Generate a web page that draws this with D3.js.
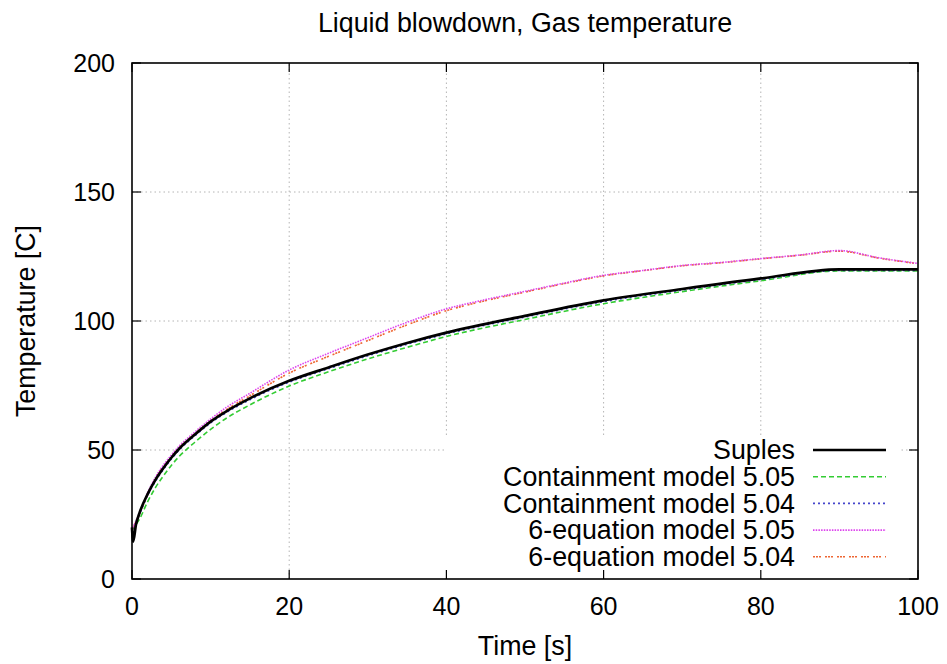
<!DOCTYPE html>
<html>
<head>
<meta charset="utf-8">
<script src="https://cdn.jsdelivr.net/npm/d3@7"></script>
<style>
  html, body { margin: 0; padding: 0; background: #fff; }
  svg { display: block; font-family: "Liberation Sans", Arial, sans-serif; }
</style>
</head>
<body>
<svg id="chart" width="947" height="664"></svg>
<script>
const xTicks = [0, 20, 40, 60, 80, 100];
const yTicks = [0, 50, 100, 150, 200];

const suplesT = [0, 0.15, 0.5, 1, 2, 3, 4, 5, 6, 8, 10, 12, 15, 20, 25, 30, 35, 40, 50, 60, 70, 80, 90, 100];
const suplesV = [20, 14.5, 21, 26, 33, 38.5, 43, 47, 50.5, 56, 61, 65, 70, 76.8, 82, 87, 91.5, 95.5, 102, 108, 112.4, 116.5, 120, 120];

const cont505T = [0, 1, 2, 3, 4, 5, 6, 8, 10, 12, 15, 20, 25, 30, 35, 40, 50, 60, 70, 80, 90, 100];
const cont505V = [19, 23.5, 30, 35.5, 40, 44, 47.5, 53, 58, 62.3, 67.5, 74.8, 80.3, 85.3, 89.8, 94, 100.6, 106.7, 111.4, 115.6, 119.4, 119.4];

const cont504T = [0, 1, 2, 3, 4, 5, 6, 8, 10, 12, 15, 20, 25, 30, 35, 40, 50, 60, 70, 80, 90, 100];
const cont504V = [19, 25.5, 32.5, 38, 42.5, 46.5, 50, 55.5, 60.5, 64.5, 69.5, 76.3, 81.5, 86.5, 91, 95, 101.5, 107.5, 112, 116.1, 119.6, 119.6];

const eq505T = [0, 1, 2, 3, 5, 6, 8, 10, 12, 15, 20, 25, 30, 35, 40, 45, 50, 55, 60, 65, 70, 75, 80, 85, 90, 95, 100];
const eq505V = [19, 26, 33.5, 39.5, 48, 51.5, 57, 62, 66.5, 72, 81, 87.5, 93.5, 99.5, 104.7, 108.3, 111.5, 114.7, 117.7, 119.6, 121.5, 122.7, 124.2, 125.6, 127.3, 124.5, 122.3];

const eq504T = [0, 1, 2, 3, 5, 6, 8, 10, 12, 15, 20, 25, 30, 35, 40, 45, 50, 55, 60, 65, 70, 75, 80, 85, 90, 95, 100];
const eq504V = [19, 25.5, 33, 39, 47.3, 50.8, 56.3, 61.3, 65.6, 71, 79.8, 86.3, 92.4, 98.5, 104, 107.9, 111.2, 114.5, 117.5, 119.5, 121.4, 122.6, 124.1, 125.5, 127.1, 124.4, 122.2];

const seriesNames = ["Suples", "Containment model 5.05", "Containment model 5.04", "6-equation model 5.05", "6-equation model 5.04"];

const series = [
  { name: seriesNames[0], t: suplesT, v: suplesV, color: "#000000", width: 2.7, dash: null },
  { name: seriesNames[1], t: cont505T, v: cont505V, color: "#33cc33", width: 1.6, dash: "5,3" },
  { name: seriesNames[2], t: cont504T, v: cont504V, color: "#4444cc", width: 1.6, dash: "2,3" },
  { name: seriesNames[3], t: eq505T, v: eq505V, color: "#dd44ee", width: 1.6, dash: "1.5,1.2" },
  { name: seriesNames[4], t: eq504T, v: eq504V, color: "#ee6633", width: 1.6, dash: "2,1,2,1,2,4" },
];

const margin = { left: 132, right: 29, top: 63, bottom: 85 };
const width = 947, height = 664;
const svg = d3.select("#chart");

const x = d3.scaleLinear().domain([0, 100]).range([margin.left, width - margin.right]);
const y = d3.scaleLinear().domain([0, 200]).range([height - margin.bottom, margin.top]);

// grid
const grid = svg.append("g").attr("stroke", "#b4b4b4").attr("stroke-width", 1).attr("stroke-dasharray", "1.5,3");
xTicks.slice(1, -1).forEach((t) => {
  grid.append("line").attr("x1", x(t)).attr("x2", x(t)).attr("y1", y(0)).attr("y2", y(200));
});
yTicks.slice(1, -1).forEach((v) => {
  grid.append("line").attr("x1", x(0)).attr("x2", x(100)).attr("y1", y(v)).attr("y2", y(v));
});

// curves
const line = d3.line().x((d) => x(d[0])).y((d) => y(d[1])).curve(d3.curveMonotoneX);
const drawOrder = [1, 2, 4, 3, 0];
drawOrder.forEach((i) => {
  const s = series[i];
  const pts = s.t.map((t, k) => [t, s.v[k]]);
  svg.append("path")
    .attr("d", line(pts))
    .attr("fill", "none")
    .attr("stroke", s.color)
    .attr("stroke-width", s.width)
    .attr("stroke-dasharray", s.dash)
    .attr("stroke-linejoin", "round");
});

// opaque key
svg.append("rect").attr("x", 445).attr("y", 437).attr("width", 455).attr("height", y(0) - 438).attr("fill", "#fff");
const key = svg.append("g");
series.forEach((s, i) => {
  const ry = 450 + i * 26.7;
  key.append("text")
    .attr("x", 795).attr("y", ry).attr("dy", "0.35em")
    .attr("text-anchor", "end").attr("font-size", 26.8).text(s.name);
  key.append("line")
    .attr("x1", 813).attr("x2", 886).attr("y1", ry).attr("y2", ry)
    .attr("stroke", s.color).attr("stroke-width", s.width)
    .attr("stroke-dasharray", s.dash);
});

// axes: ticks inward on all sides
const axes = svg.append("g").attr("stroke", "#000").attr("stroke-width", 1.2);
const tl = 9;
xTicks.forEach((t) => {
  axes.append("line").attr("x1", x(t)).attr("x2", x(t)).attr("y1", y(0)).attr("y2", y(0) - tl);
  axes.append("line").attr("x1", x(t)).attr("x2", x(t)).attr("y1", y(200)).attr("y2", y(200) + tl);
});
yTicks.forEach((v) => {
  axes.append("line").attr("x1", x(0)).attr("x2", x(0) + tl).attr("y1", y(v)).attr("y2", y(v));
  axes.append("line").attr("x1", x(100)).attr("x2", x(100) - tl).attr("y1", y(v)).attr("y2", y(v));
});
svg.append("rect")
  .attr("x", x(0)).attr("y", y(200)).attr("width", x(100) - x(0)).attr("height", y(0) - y(200))
  .attr("fill", "none").attr("stroke", "#000").attr("stroke-width", 1.6);

// tick labels
const labels = svg.append("g").attr("font-size", 25).attr("fill", "#000");
xTicks.forEach((t) => {
  labels.append("text").attr("x", x(t)).attr("y", 615).attr("text-anchor", "middle").text(t);
});
yTicks.forEach((v) => {
  labels.append("text").attr("x", 115).attr("y", y(v)).attr("dy", "0.36em").attr("text-anchor", "end").text(v);
});

// titles
svg.append("text").attr("x", 525).attr("y", 32).attr("text-anchor", "middle").attr("font-size", 26.8)
  .text("Liquid blowdown, Gas temperature");
svg.append("text").attr("x", 525).attr("y", 655).attr("text-anchor", "middle").attr("font-size", 26.8)
  .text("Time [s]");
svg.append("text").attr("transform", `translate(35,${(y(0) + y(200)) / 2}) rotate(-90)`)
  .attr("text-anchor", "middle").attr("font-size", 26.8).text("Temperature [C]");
</script>
</body>
</html>
